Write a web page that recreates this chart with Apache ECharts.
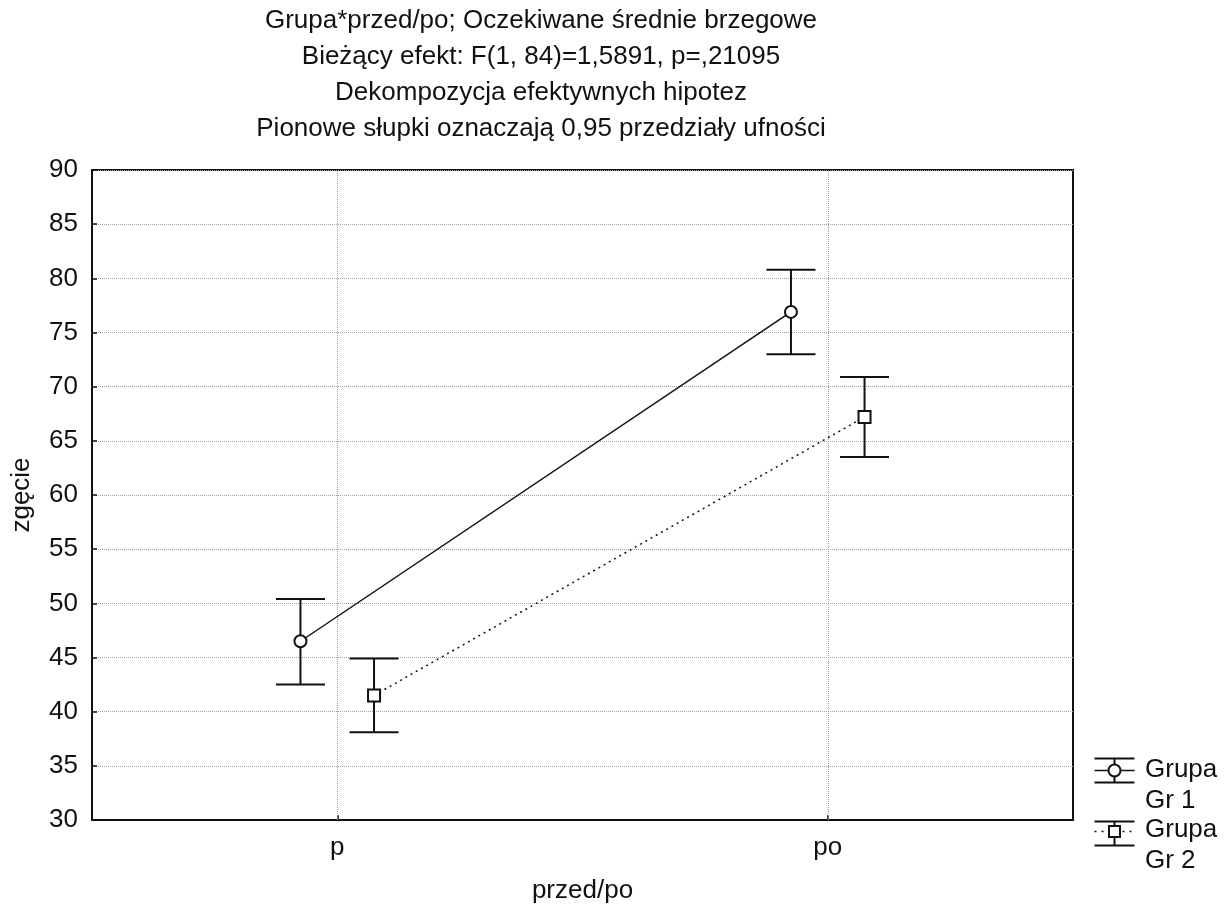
<!DOCTYPE html>
<html>
<head>
<meta charset="utf-8">
<script src="https://cdn.jsdelivr.net/npm/echarts@6/dist/echarts.min.js"></script>
<style>
  html, body { margin: 0; padding: 0; background: #fff; }
  #main { width: 1230px; height: 907px; }
</style>
</head>
<body>
<div id="main"></div>
<script>
// dane
var kategorie = ['p', 'po'];
var gr1Srednia = [46.5, 76.9];
var gr1Dol = [42.5, 73.0];
var gr1Gora = [50.4, 80.8];
var gr2Srednia = [41.5, 67.2];
var gr2Dol = [38.1, 63.5];
var gr2Gora = [44.9, 70.9];
var yTicks = [30, 35, 40, 45, 50, 55, 60, 65, 70, 75, 80, 85, 90];

var tytul = [
  'Grupa*przed/po; Oczekiwane średnie brzegowe',
  'Bieżący efekt: F(1, 84)=1,5891, p=,21095',
  'Dekompozycja efektywnych hipotez',
  'Pionowe słupki oznaczają 0,95 przedziały ufności'
];

var FONT = '"Liberation Sans", Arial, sans-serif';
var przesun = 0.075; // przesunięcie grup względem środka kategorii

function srodek(i) { return i + 0.5; }

function punkty(sr, off) {
  return sr.map(function (v, i) { return [srodek(i) + off, v]; });
}
function slupki(dol, gora, off) {
  return dol.map(function (v, i) { return [srodek(i) + off, v, gora[i]]; });
}

function rysujSlupek(params, api) {
  var x = api.value(0);
  var lo = api.coord([x, api.value(1)]);
  var hi = api.coord([x, api.value(2)]);
  var half = 24.5;
  var st = { stroke: '#111', lineWidth: 2 };
  return {
    type: 'group',
    children: [
      { type: 'line', shape: { x1: lo[0], y1: lo[1], x2: hi[0], y2: hi[1] }, style: st },
      { type: 'line', shape: { x1: lo[0] - half, y1: lo[1], x2: lo[0] + half, y2: lo[1] }, style: st },
      { type: 'line', shape: { x1: hi[0] - half, y1: hi[1], x2: hi[0] + half, y2: hi[1] }, style: st }
    ]
  };
}

var chart = echarts.init(document.getElementById('main'));

var option = {
  backgroundColor: '#fff',
  animation: false,
  title: {
    text: tytul.join('\n'),
    left: 541,
    top: 3,
    padding: 0,
    textAlign: 'center',
    textStyle: { fontFamily: FONT, fontSize: 26, fontWeight: 'normal', color: '#111', lineHeight: 36 }
  },
  grid: {
    left: 92, right: 157, top: 170, bottom: 87,
    outerBoundsMode: 'none',
    containLabel: false,
    show: true, borderColor: '#111', borderWidth: 2, backgroundColor: 'transparent'
  },
  xAxis: {
    type: 'value',
    min: 0, max: kategorie.length, interval: 0.5,
    name: 'przed/po',
    nameLocation: 'middle',
    nameGap: 58,
    nameTextStyle: { fontFamily: FONT, fontSize: 26, color: '#111' },
    axisLine: { show: true, lineStyle: { color: '#111', width: 2 } },
    axisTick: {
      show: true, inside: true, length: 5,
      customValues: kategorie.map(function (c, i) { return srodek(i); }),
      lineStyle: { color: '#111', width: 1.5 }
    },
    axisLabel: {
      customValues: kategorie.map(function (c, i) { return srodek(i); }),
      formatter: function (v) { return kategorie[Math.round(v - 0.5)]; },
      fontFamily: FONT, fontSize: 26, color: '#111', margin: 15
    },
    splitLine: { show: false }
  },
  yAxis: {
    type: 'value',
    min: yTicks[0], max: yTicks[yTicks.length - 1], interval: 5,
    name: 'zgęcie',
    nameLocation: 'middle',
    nameGap: 57,
    nameTextStyle: { fontFamily: FONT, fontSize: 26, color: '#111' },
    axisLine: { show: true, lineStyle: { color: '#111', width: 2 } },
    axisTick: { show: true, inside: true, length: 5, lineStyle: { color: '#111', width: 1.5 } },
    axisLabel: { fontFamily: FONT, fontSize: 26, color: '#111', margin: 14 },
    splitLine: { show: true, lineStyle: { color: '#a0a0a0', type: 'dotted', width: 1 } }
  },
  series: [
    {
      name: 'Grupa Gr 1 slupki',
      type: 'custom',
      renderItem: rysujSlupek,
      data: slupki(gr1Dol, gr1Gora, -przesun),
      z: 3,
      silent: true,
      markLine: {
        silent: true,
        symbol: 'none',
        label: { show: false },
        lineStyle: { color: '#a0a0a0', type: 'dotted', width: 1 },
        data: kategorie.map(function (c, i) { return { xAxis: srodek(i) }; })
      }
    },
    {
      name: 'Grupa Gr 2 slupki',
      type: 'custom',
      renderItem: rysujSlupek,
      data: slupki(gr2Dol, gr2Gora, przesun),
      z: 3,
      silent: true
    },
    {
      name: 'Grupa Gr 1',
      type: 'line',
      data: punkty(gr1Srednia, -przesun),
      symbol: 'circle',
      symbolSize: 12,
      lineStyle: { color: '#111', width: 1.5 },
      itemStyle: { color: '#fff', borderColor: '#111', borderWidth: 2 },
      z: 5
    },
    {
      name: 'Grupa Gr 2',
      type: 'line',
      data: punkty(gr2Srednia, przesun),
      symbol: 'rect',
      symbolSize: 12,
      lineStyle: { color: '#111', width: 1.5, type: [2, 4] },
      itemStyle: { color: '#fff', borderColor: '#111', borderWidth: 2 },
      z: 5
    }
  ],
  graphic: [
    {
      type: 'group', left: 1092, top: 756,
      children: [
        { type: 'line', shape: { x1: 0, y1: 1, x2: 40, y2: 1 }, style: { stroke: '#111', lineWidth: 2 } },
        { type: 'line', shape: { x1: 0, y1: 25, x2: 40, y2: 25 }, style: { stroke: '#111', lineWidth: 2 } },
        { type: 'line', shape: { x1: 20, y1: 1, x2: 20, y2: 25 }, style: { stroke: '#111', lineWidth: 2 } },
        { type: 'line', shape: { x1: 0, y1: 13, x2: 40, y2: 13 }, style: { stroke: '#111', lineWidth: 1.5 } },
        { type: 'circle', shape: { cx: 20, cy: 13, r: 6 }, style: { fill: '#fff', stroke: '#111', lineWidth: 2 } }
      ]
    },
    {
      type: 'group', left: 1092, top: 819,
      children: [
        { type: 'line', shape: { x1: 0, y1: 1, x2: 40, y2: 1 }, style: { stroke: '#111', lineWidth: 2 } },
        { type: 'line', shape: { x1: 0, y1: 25, x2: 40, y2: 25 }, style: { stroke: '#111', lineWidth: 2 } },
        { type: 'line', shape: { x1: 20, y1: 1, x2: 20, y2: 25 }, style: { stroke: '#111', lineWidth: 2 } },
        { type: 'line', shape: { x1: 0, y1: 11, x2: 40, y2: 11 }, style: { stroke: '#111', lineWidth: 1.5, lineDash: [2, 5] } },
        { type: 'rect', shape: { x: 14.5, y: 5.5, width: 11, height: 11 }, style: { fill: '#fff', stroke: '#111', lineWidth: 2 } }
      ]
    },
    {
      type: 'text', left: 1145, top: 754,
      style: { text: 'Grupa\nGr 1', font: '26px ' + FONT, fill: '#111', lineHeight: 31 }
    },
    {
      type: 'text', left: 1145, top: 814,
      style: { text: 'Grupa\nGr 2', font: '26px ' + FONT, fill: '#111', lineHeight: 31 }
    }
  ]
};

chart.setOption(option);
</script>
</body>
</html>
